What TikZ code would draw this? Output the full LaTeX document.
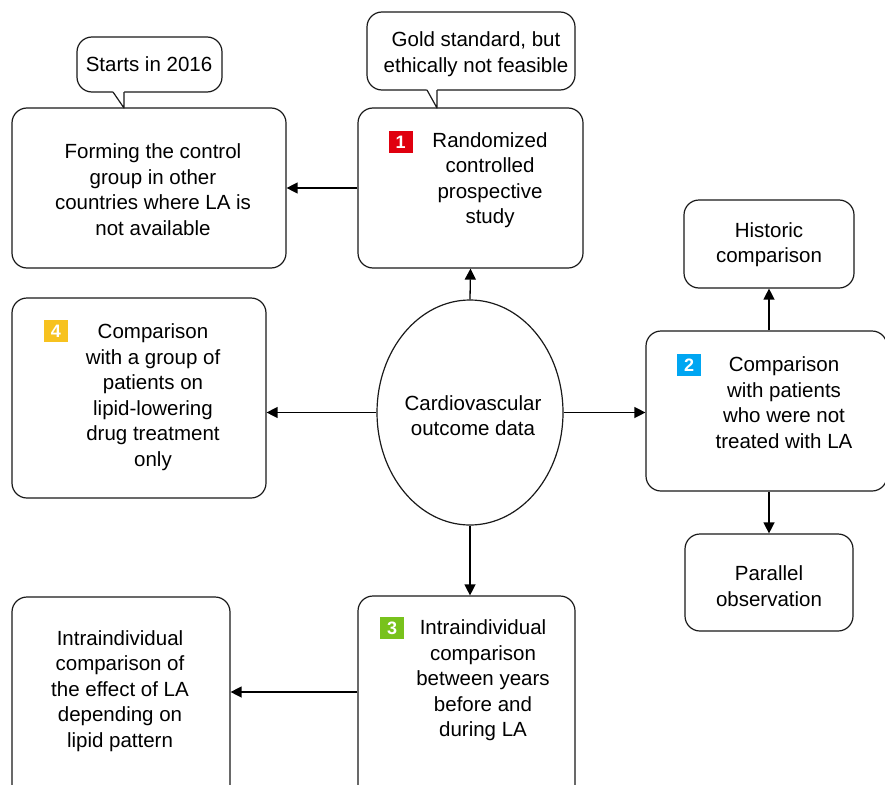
\documentclass[tikz,border=0pt]{standalone}
\usepackage{fontspec}
\setmainfont{Liberation Sans}
\usetikzlibrary{arrows.meta,shapes.geometric}
\definecolor{bred}{HTML}{E0000F}
\definecolor{bblue}{HTML}{00A6F2}
\definecolor{bgreen}{HTML}{78C21C}
\definecolor{byellow}{HTML}{F7C21F}
\definecolor{edge}{HTML}{1A1A1A}
\begin{document}
\begin{tikzpicture}[x=1pt,y=-1pt,
  box/.style={draw=edge,line width=1.2pt,rounded corners=15pt,fill=white,minimum width=#1,inner sep=0pt},
  txt/.style={align=center,font=\fontsize{20.5}{25.5}\selectfont,inner sep=0pt},
  badge/.style={fill=#1,text=white,font=\fontsize{18}{20}\selectfont\bfseries,minimum width=24pt,minimum height=22pt,inner sep=0pt},
  conn/.style={line width=1.3pt,-{Triangle[length=11pt,width=11pt]}},
  tail/.style={draw=edge,line width=1.2pt,fill=white}
]
\useasboundingbox (0,0) rectangle (885,784);
\clip (0,0) rectangle (885,784);
\fill[white] (0,0) rectangle (885,784);

% boxes
\node[box=225pt,minimum height=160pt] (b1) at (470.5,188) {};
\node[box=274pt,minimum height=160pt] (form) at (149,188) {};
\node[box=254pt,minimum height=200pt] (b4) at (139,398) {};
\node[box=241pt,minimum height=160pt] (b2) at (766.5,411) {};
\node[box=170pt,minimum height=88pt] (hist) at (769,244) {};
\node[box=168pt,minimum height=97pt] (par) at (769,582.5) {};
\node[box=217pt,minimum height=208pt] (b3) at (466.5,700) {};
\node[box=218pt,minimum height=206pt] (intra) at (121,700) {};
\node[draw=edge,line width=1.2pt,ellipse,fill=white,minimum width=186pt,minimum height=225pt,inner sep=0pt] (cv) at (470,412.5) {};

% callouts
\node[box=208pt,minimum height=78pt] (gold) at (471,51) {};
\node[box=145pt,minimum height=55pt] (starts) at (149.5,64.5) {};
\coordinate (gtip) at (437,108);
\coordinate (stip) at (124,108);
\fill[white] (426,88) -- (437,88) -- (gtip) -- cycle;
\draw[line width=1.2pt,edge,line join=round] (427,90) -- (gtip) -- (437,90);
\fill[white] (112,90) -- (124,90) -- (stip) -- cycle;
\draw[line width=1.2pt,edge,line join=round] (113,92) -- (stip) -- (124,92);

% texts
\node[txt] (t1) at (490,180) {Randomized\\controlled\\prospective\\study};
\node[txt] (tform) at (153,189.5) {Forming the control\\group in other\\countries where LA is\\not available};
\node[txt] (t4) at (153,397) {Comparison\\with a group of\\patients on\\lipid-lowering\\drug treatment\\only};
\node[txt] (t2) at (784,402.5) {Comparison\\with patients\\who were not\\treated with LA};
\node[txt] (t3) at (483,680.5) {Intraindividual\\comparison\\between years\\before and\\during LA};
\node[txt] (tintra) at (120,691) {Intraindividual\\comparison of\\the effect of LA\\depending on\\lipid pattern};
\node[txt] (thist) at (769,244.5) {Historic\\comparison};
\node[txt] (tpar) at (769,586) {Parallel\\observation};
\node[txt] (tcv) at (473,415.5) {Cardiovascular\\outcome data};
\node[txt] (tgold) at (476,54) {Gold standard, but\\ethically not feasible};
\node[txt] (tstarts) at (149,64.5) {Starts in 2016};

% badges
\node[badge=bred] (n1) at (400.5,142) {1};
\node[badge=bblue] (n2) at (689,365) {2};
\node[badge=byellow] (n4) at (56,331) {4};
\node[badge=bgreen] (n3) at (392,628) {3};

% connectors
\draw[conn] (cv.north) -- (b1.south);
\draw[conn] (b1.west) -- (form.east);
\draw[conn] (cv.west) -- (b4.east |- cv.west);
\draw[conn] (cv.east) -- (b2.west |- cv.east);
\draw[conn] (cv.south) -- (b3.north -| cv.south);
\draw[conn] (b3.west |- 0,692) -- (intra.east |- 0,692);
\draw[conn] (b2.north -| hist.south) -- (hist.south);
\draw[conn] (b2.south -| par.north) -- (par.north);
\end{tikzpicture}
\end{document}
